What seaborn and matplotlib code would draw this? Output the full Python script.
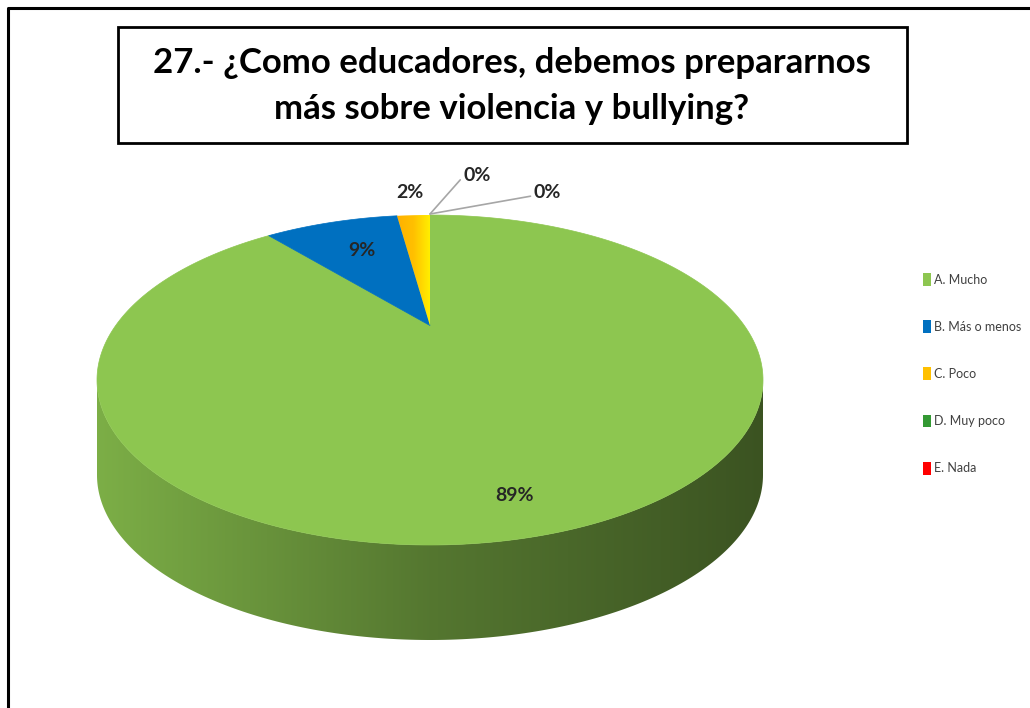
import numpy as np
import matplotlib
matplotlib.use("Agg")
import matplotlib.pyplot as plt
from matplotlib.patches import Polygon, Rectangle, Patch
from matplotlib.colors import LinearSegmentedColormap, to_rgb
from matplotlib.lines import Line2D
import seaborn as sns

# data
categories = ["A. Mucho", "B. Más o menos", "C. Poco", "D. Muy poco", "E. Nada"]
counts = [40, 4, 1, 0, 0]
colors = ["#8DC650", "#0070C0", "#FFC000", "#339933", "#FF0000"]
title = "27.- ¿Como educadores, debemos prepararnos\nmás sobre violencia y bullying?"

# label placement per slice: (radius, angle nudge in degrees)
label_place = [(0.86, 7), (0.67, 1), (1.29, 0), (1.55, 8.4), (1.40, 22.4)]

sns.set_theme(style="white")
plt.rcParams['font.family'] = ['Lato', 'DejaVu Sans']

W, H = 1030, 708
fig = plt.figure(figsize=(W / 100, H / 100), dpi=100)
ax = fig.add_axes([0, 0, 1, 1])
ax.set_xlim(0, W)
ax.set_ylim(H, 0)
ax.axis('off')

# pie geometry (perspective tilt)
CX, CY, RX, RY, C, DEPTH = 430, 380, 333, 165, -0.33, 95
K = np.sqrt(1 - C ** 2)


def proj(r, theta_deg):
    t = np.radians(theta_deg)
    u = r * np.sin(t)
    v = -r * np.cos(t)
    w = 1 + C * v
    return CX + RX * u * K / w, CY + RY * (v + C) / w


def shade(col, f):
    return tuple(np.clip(np.array(to_rgb(col)) * f, 0, 1))


fracs = np.array(counts) / np.sum(counts)
edges = np.concatenate([[0], np.cumsum(fracs) * 360])

# side wall (front visible part)
th1 = np.degrees(np.arccos(C))
th2 = 360 - th1
for i, col in enumerate(colors):
    a0, a1 = max(edges[i], th1), min(edges[i + 1], th2)
    if a1 <= a0:
        continue
    ts = np.linspace(a0, a1, 200)
    xs, ys = proj(1, ts)
    pts = np.column_stack([np.concatenate([xs, xs[::-1]]),
                           np.concatenate([ys, ys[::-1] + DEPTH])])
    wall = Polygon(pts, closed=True, facecolor='none', edgecolor='none')
    ax.add_patch(wall)
    cmap = LinearSegmentedColormap.from_list(
        "w", [shade(col, 0.88), shade(col, 0.6), shade(col, 0.42)])
    grad = np.linspace(0, 1, 256).reshape(1, -1)
    im = ax.imshow(grad, cmap=cmap, aspect='auto',
                   extent=[pts[:, 0].min(), pts[:, 0].max(),
                           pts[:, 1].max(), pts[:, 1].min()], zorder=1)
    im.set_clip_path(wall)

# top face slices
for i, col in enumerate(colors):
    if fracs[i] <= 0:
        continue
    ts = np.linspace(edges[i], edges[i + 1], max(int(fracs[i] * 400), 8))
    xs, ys = proj(1, ts)
    pts = np.column_stack([np.concatenate([[CX], xs]),
                           np.concatenate([[proj(0, 0)[1]], ys])])
    if categories[i].startswith("C"):
        poly = Polygon(pts, closed=True, facecolor='none', edgecolor='none')
        ax.add_patch(poly)
        cmap = LinearSegmentedColormap.from_list("c", ["#FFB000", "#FFC000", "#FFEE00"])
        im = ax.imshow(np.linspace(0, 1, 64).reshape(1, -1), cmap=cmap, aspect='auto',
                       extent=[pts[:, 0].min(), pts[:, 0].max(),
                               pts[:, 1].max(), pts[:, 1].min()], zorder=2)
        im.set_clip_path(poly)
    else:
        ax.add_patch(Polygon(pts, closed=True, facecolor=col, edgecolor=col,
                             linewidth=0.5, zorder=2))

# data labels
top_edge = proj(1, 0)
for i, n in enumerate(counts):
    mid = (edges[i] + edges[i + 1]) / 2
    r, nudge = label_place[i]
    lx, ly = proj(r, mid + nudge)
    txt = f"{fracs[i] * 100:.0f}%"
    ax.text(lx, ly, txt, ha='center', va='center', fontsize=14,
            fontweight='bold', color='#262626', zorder=5)
    if fracs[i] == 0:
        ax.add_line(Line2D([top_edge[0], lx - 17], [top_edge[1] - 1, ly + 4],
                           color='#A6A6A6', lw=1.2, zorder=4))

# title box
ax.add_patch(Rectangle((118, 27), 789, 116, facecolor='white', edgecolor='black',
                       lw=2, zorder=6))
ax.text(512, 86, title, ha='center', va='center', fontsize=25, fontweight='bold',
        linespacing=1.55, color='black', zorder=7)

# outer frame
ax.add_line(Line2D([8, 8, W + 5], [H + 5, 8, 8], color='black', lw=2.2, zorder=8))

# legend
handles = [Patch(facecolor=c, edgecolor='none') for c in colors]
leg = ax.legend(handles, categories, loc='upper left', bbox_to_anchor=(918 / W, 1 - 268 / H),
                frameon=False, fontsize=9, handlelength=0.6, handleheight=1.2,
                handletextpad=0.3, labelspacing=2.75, borderaxespad=0)
for t in leg.get_texts():
    t.set_color('#404040')

fig.savefig("out.png", dpi=100)
